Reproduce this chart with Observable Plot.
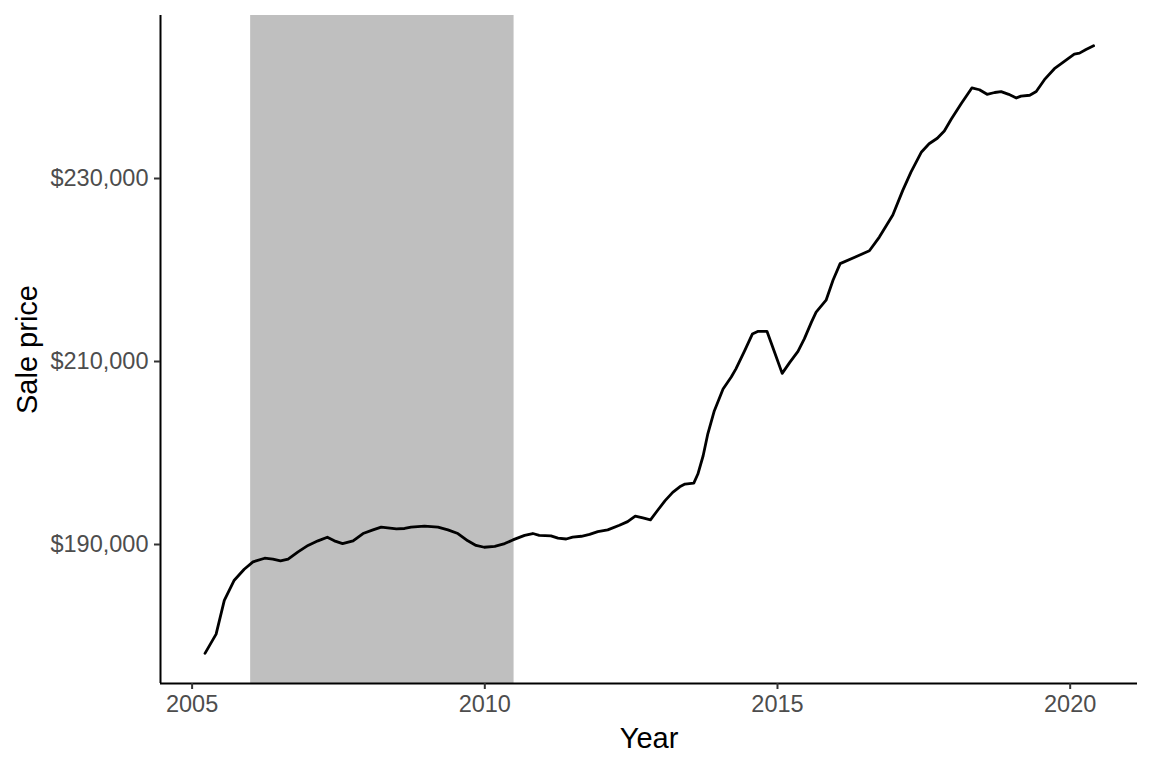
<!DOCTYPE html>
<html>
<head>
<meta charset="utf-8">
<script src="https://cdn.jsdelivr.net/npm/d3@7"></script>
<script src="https://cdn.jsdelivr.net/npm/@observablehq/plot@0.6"></script>
<style>
  html, body { margin: 0; padding: 0; background: #ffffff; }
  #chart svg { display: block; }
</style>
</head>
<body>
<div id="chart"></div>
<script>
// Data
const years = [
  2005.22, 2005.41, 2005.55, 2005.72, 2005.89, 2006.04, 2006.24, 2006.38, 2006.51, 2006.64,
  2006.81, 2006.98, 2007.15, 2007.31, 2007.43, 2007.57, 2007.75, 2007.92, 2008.09, 2008.23,
  2008.49, 2008.63, 2008.74, 2008.97, 2009.20, 2009.37, 2009.54, 2009.71, 2009.85, 2009.99,
  2010.17, 2010.34, 2010.48, 2010.68, 2010.82, 2010.93, 2011.13, 2011.25, 2011.39, 2011.50,
  2011.65, 2011.79, 2011.93, 2012.10, 2012.30, 2012.44, 2012.57, 2012.70, 2012.83, 2012.96,
  2013.08, 2013.21, 2013.33, 2013.42, 2013.57, 2013.64, 2013.73, 2013.81, 2013.92, 2014.07,
  2014.21, 2014.29, 2014.44, 2014.57, 2014.67, 2014.82, 2014.95, 2015.08, 2015.21, 2015.35,
  2015.46, 2015.58, 2015.66, 2015.83, 2015.95, 2016.07, 2016.32, 2016.57, 2016.74, 2016.97,
  2017.14, 2017.28, 2017.46, 2017.59, 2017.73, 2017.85, 2017.97, 2018.14, 2018.32, 2018.45,
  2018.58, 2018.71, 2018.82, 2018.95, 2019.08, 2019.16, 2019.31, 2019.42, 2019.56, 2019.73,
  2019.90, 2020.07, 2020.16, 2020.27, 2020.40
];
const prices = [
  178100, 180200, 183900, 186100, 187300, 188100, 188500, 188400, 188200, 188400,
  189200, 189900, 190400, 190800, 190400, 190100, 190400, 191200, 191600, 191900,
  191700, 191750, 191900, 192000, 191900, 191600, 191200, 190400, 189900, 189700,
  189800, 190100, 190500, 191000, 191200, 191000, 190950, 190700, 190600, 190800,
  190900, 191100, 191400, 191600, 192100, 192500, 193100, 192900, 192700, 193800,
  194800, 195700, 196300, 196600, 196700, 197700, 199700, 202100, 204600, 207000,
  208300, 209200, 211200, 213000, 213300, 213300, 211000, 208700, 209900, 211100,
  212500, 214300, 215400, 216700, 218900, 220700, 221400, 222100, 223600, 226000,
  228700, 230700, 232900, 233800, 234400, 235200, 236500, 238200, 239900, 239700,
  239200, 239400, 239500, 239200, 238800, 239000, 239100, 239500, 240800, 242000,
  242800, 243600, 243700, 244100, 244500
];
const shadeStart = [2006];
const shadeEnd = [2010.5];
const xTicks = [2005, 2010, 2015, 2020];
const yTicks = [190000, 210000, 230000];
const xDomain = [2004.46, 2021.15];
const yDomain = [174809, 247814];

const data = years.map((y, i) => ({year: y, price: prices[i]}));
const shade = shadeStart.map((s, i) => ({start: s, end: shadeEnd[i]}));

const chart = Plot.plot({
  width: 1152,
  height: 768,
  marginLeft: 160,
  marginRight: 15,
  marginTop: 15,
  marginBottom: 85,
  style: {fontFamily: "'Liberation Sans', Arial, sans-serif", background: "#ffffff", overflow: "visible"},
  x: {domain: xDomain},
  y: {domain: yDomain},
  marks: [
    Plot.rect(shade, {x1: "start", x2: "end", fill: "#bfbfbf"}),
    Plot.line(data, {x: "year", y: "price", stroke: "#000000", strokeWidth: 2.8}),
    Plot.ruleX([xDomain[0]], {stroke: "#000000", strokeWidth: 2}),
    Plot.ruleY([yDomain[0]], {stroke: "#000000", strokeWidth: 2}),
    Plot.axisX({ticks: xTicks, tickFormat: d => String(d), tickSize: 6, tickPadding: 6,
                fontSize: 23.5, stroke: "#333333", strokeWidth: 2, fill: "#4d4d4d", label: null}),
    Plot.axisY({ticks: yTicks, tickFormat: d3.format("$,"), tickSize: 6, tickPadding: 6,
                fontSize: 23.5, stroke: "#333333", strokeWidth: 2, fill: "#4d4d4d", label: null}),
    Plot.text(["Year"], {frameAnchor: "bottom", dy: 55, text: d => d, fontSize: 29, fill: "#000000",
                         textAnchor: "middle", lineAnchor: "middle"}),
    Plot.text(["Sale price"], {frameAnchor: "left", dx: -133, text: d => d, rotate: -90, fontSize: 29,
                               fill: "#000000", textAnchor: "middle", lineAnchor: "middle"})
  ]
});
document.getElementById("chart").appendChild(chart);
</script>
</body>
</html>
